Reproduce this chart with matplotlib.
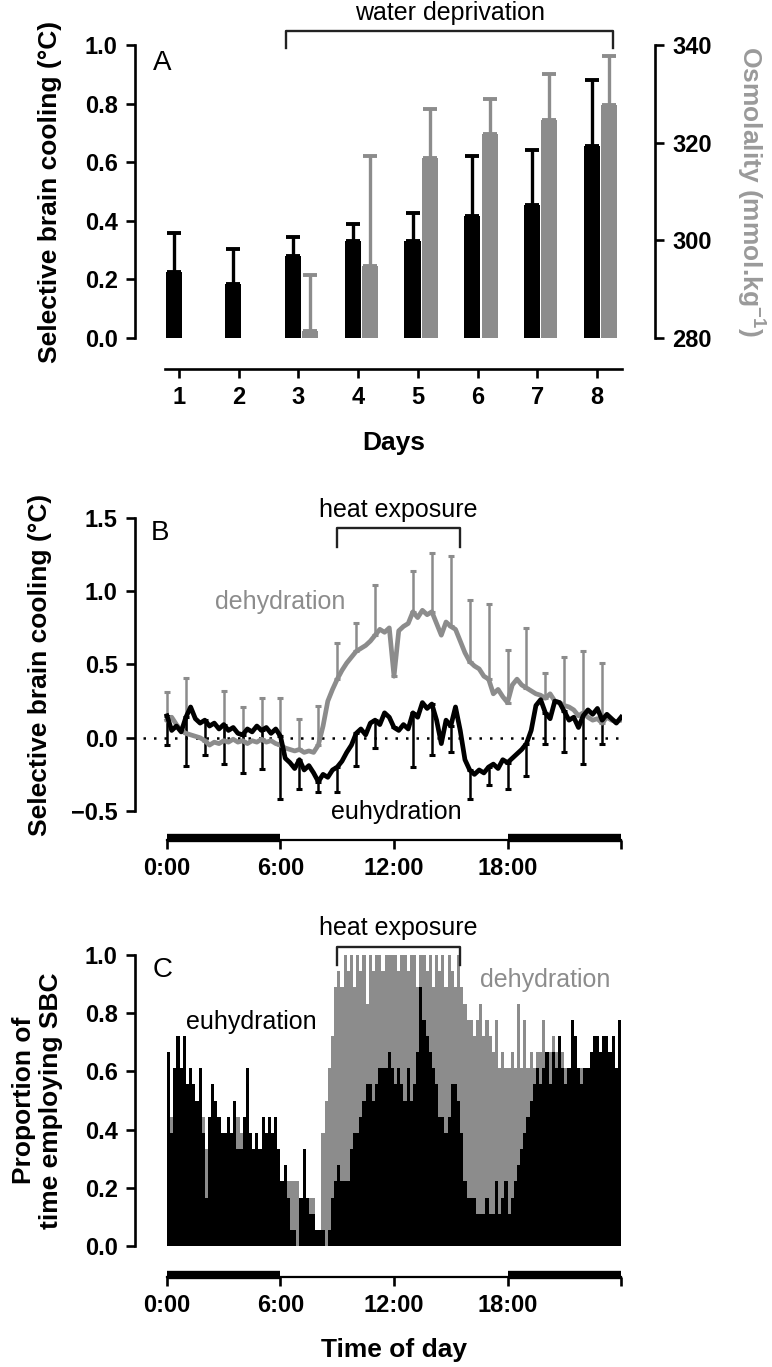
import numpy as np
import matplotlib
matplotlib.use('Agg')
import matplotlib.pyplot as plt

plt.rcParams['font.family'] = ['Liberation Sans', 'DejaVu Sans']
plt.rcParams['mathtext.default'] = 'regular'

GRAY = '#8c8c8c'

# ---- Panel A: daily SBC (black, left axis) and osmolality (gray, right axis)
days = [1, 2, 3, 4, 5, 6, 7, 8]
sbc_mean = [0.225, 0.185, 0.28, 0.33, 0.33, 0.415, 0.455, 0.655]
sbc_sem = [0.135, 0.12, 0.065, 0.06, 0.095, 0.205, 0.185, 0.225]
osm_days = [3, 4, 5, 6, 7, 8]
osm_mean = [281.5, 294.7, 316.9, 321.7, 324.7, 327.7]
osm_sem = [11.5, 22.5, 9.9, 7.2, 9.3, 10.0]
water_dep = (2.79, 8.27)

# ---- Panel B: SBC over the day, 15 min resolution
hours_b = np.linspace(0, 24, 97)
euhy = [0.15, 0.05, 0.08, 0.04, 0.14, 0.21, 0.13, 0.10, 0.12, 0.08, 0.10, 0.06,
        0.09, 0.05, 0.07, 0.03, 0.02, 0.06, 0.04, 0.08, 0.05, 0.07, 0.03, 0.06,
        0.01, -0.14, -0.17, -0.21, -0.15, -0.22, -0.19, -0.24, -0.30, -0.25, -0.27, -0.22,
        -0.20, -0.16, -0.10, -0.05, 0.03, 0.06, 0.02, 0.10, 0.12, 0.09, 0.17, 0.14,
        0.07, 0.05, 0.09, 0.06, 0.17, 0.14, 0.24, 0.20, 0.23, 0.12, -0.04, 0.12,
        0.08, 0.21, 0.05, -0.15, -0.22, -0.25, -0.22, -0.24, -0.20, -0.18, -0.21, -0.15,
        -0.17, -0.14, -0.11, -0.08, -0.04, 0.05, 0.22, 0.26, 0.17, 0.13, 0.25, 0.24,
        0.18, 0.12, 0.14, 0.07, 0.15, 0.19, 0.16, 0.20, 0.12, 0.16, 0.13, 0.10, 0.14]
dehy = [0.12, 0.14, 0.09, 0.05, 0.03, 0.02, 0.01, 0.00, -0.02, -0.05, -0.03, -0.04,
        -0.02, -0.03, -0.01, -0.03, -0.02, -0.04, -0.02, -0.03, -0.01, -0.03, -0.02, -0.04,
        -0.05, -0.07, -0.08, -0.09, -0.08, -0.10, -0.09, -0.10, -0.05, 0.08, 0.25, 0.33,
        0.40, 0.46, 0.51, 0.55, 0.59, 0.61, 0.63, 0.66, 0.70, 0.74, 0.72, 0.75,
        0.42, 0.73, 0.76, 0.78, 0.86, 0.82, 0.87, 0.84, 0.86, 0.78, 0.70, 0.79,
        0.76, 0.74, 0.66, 0.58, 0.52, 0.49, 0.47, 0.42, 0.40, 0.30, 0.33, 0.28,
        0.24, 0.36, 0.40, 0.36, 0.34, 0.32, 0.30, 0.29, 0.27, 0.30, 0.25, 0.24,
        0.22, 0.21, 0.19, 0.15, 0.17, 0.14, 0.12, 0.13, 0.10, 0.14, 0.12, 0.11, 0.12]
# hourly SEM (downward for euhydration, upward for dehydration)
euhy_sem = [0.20, 0.33, 0.24, 0.27, 0.26, 0.26, 0.43, 0.20, 0.07, 0.17, 0.22, 0.19,
            np.nan, 0.37, 0.35, 0.18, 0.20, 0.12, 0.18, 0.22, 0.21, 0.28, 0.33, 0.16]
dehy_sem = [0.19, 0.38, np.nan, 0.34, 0.23, 0.28, 0.32, 0.21, 0.27, 0.25, 0.19, 0.34,
            np.nan, 0.28, 0.40, 0.48, 0.42, 0.51, 0.36, 0.41, 0.17, 0.33, 0.42, 0.41]
heat = (9.0, 15.5)
dark_periods = [(0, 6), (18, 24)]

# ---- Panel C: proportion of time employing SBC, 10 min bins, counts out of 18
n_animals = 18
euhy_count = [12, 7, 11, 13, 11, 13, 10, 11, 10, 9, 11, 7, 3, 8, 10, 9, 8, 7, 7, 8, 7, 9, 6, 6,
              8, 11, 7, 6, 7, 6, 8, 7, 8, 7, 8, 6, 4, 5, 3, 1, 1, 0, 3, 6, 3, 2, 2, 1,
              1, 1, 0, 1, 3, 4, 5, 4, 4, 4, 6, 7, 7, 8, 9, 10, 10, 9, 10, 11, 11, 11, 12, 11,
              10, 11, 10, 9, 11, 9, 10, 12, 16, 14, 13, 12, 11, 10, 8, 8, 7, 8, 10, 10, 9, 7,
              4, 3, 3, 3, 2, 2, 2, 3, 2, 2, 4, 2, 3, 4, 2, 3, 4, 5, 6, 7, 8, 9, 10, 11,
              10, 11, 12, 10, 12, 11, 13, 11, 10, 11, 14, 13, 11, 10, 11, 11, 12, 13, 13, 12,
              13, 13, 12, 13, 11, 14]
dehy_count = [10, 8, 10, 10, 9, 10, 8, 9, 8, 8, 9, 8, 6, 7, 8, 7, 7, 6, 6, 7, 6, 7, 8, 7,
              7, 8, 6, 6, 6, 5, 7, 6, 6, 6, 6, 5, 4, 4, 4, 4, 4, 4, 3, 3, 3, 3, 3, 1,
              0, 7, 9, 11, 13, 16, 17, 16, 18, 17, 18, 16, 18, 17, 18, 15, 18, 17, 18, 18, 17, 18, 18, 18,
              18, 17, 18, 18, 17, 18, 18, 16, 18, 18, 17, 18, 16, 18, 17, 18, 16, 18, 17, 16,
              18, 16, 15, 14, 14, 13, 14, 15, 13, 14, 13, 12, 14, 11, 12, 11, 11, 12, 11, 15,
              11, 14, 11, 12, 11, 12, 12, 14, 12, 12, 13, 12, 12, 12, 11, 11, 10, 11, 10, 11,
              11, 10, 11, 11, 11, 10, 11, 11, 10, 11, 11, 11]
bin_start = np.arange(len(euhy_count)) / 6.0

W, H = 772, 1367
fig = plt.figure(figsize=(W / 100, H / 100), dpi=100)


def px_axes(left, top, right, bottom):
    return fig.add_axes([left / W, 1 - bottom / H, (right - left) / W, (bottom - top) / H])


def style_axis(ax, bottom_off):
    for s in ['top', 'right']:
        ax.spines[s].set_visible(False)
    for s in ['left', 'bottom']:
        ax.spines[s].set_linewidth(1.9)
    ax.spines['bottom'].set_position(('axes', bottom_off))
    ax.tick_params(direction='out', length=6.5, width=1.9, labelsize=17, pad=6)
    for lab in ax.get_xticklabels() + ax.get_yticklabels():
        lab.set_fontweight('bold')


def time_axis(ax, off):
    ax.set_xlim(-1.69, 24.05)
    ax.set_xticks([0, 6, 12, 18, 24])
    ax.set_xticklabels(['0:00', '6:00', '12:00', '18:00', ''])
    style_axis(ax, off)
    ax.spines['bottom'].set_bounds(0, 24)
    ax.spines['bottom'].set_linewidth(1.6)
    # dark phases drawn as a thick bar sitting on the time axis
    for a, b in dark_periods:
        ax.plot([a, b], [off + 0.008, off + 0.008], transform=ax.get_xaxis_transform(),
                color='black', lw=6, solid_capstyle='butt', clip_on=False)


def bracket(ax, x0, x1, y_top, y_leg, label, y_text):
    ax.plot([x0, x0, x1, x1], [y_leg, y_top, y_top, y_leg], color='#222222', lw=1.7, clip_on=False)
    ax.text((x0 + x1) / 2, y_text, label, ha='center', va='center', fontsize=18, clip_on=False)


# ---------------- Panel A
axA = px_axes(135, 45, 655, 338)
dx_black = np.array(days) - 0.09
axA.bar(dx_black, sbc_mean, width=0.27, color='black', zorder=3)
axA.errorbar(dx_black, sbc_mean, yerr=[np.zeros(len(days)), sbc_sem], fmt='none',
             ecolor='black', elinewidth=2.4, capsize=5, capthick=2.8, zorder=2)
axA.set_xlim(0.263, 8.97)
axA.set_ylim(0, 1.0)
axA.set_yticks([0, 0.2, 0.4, 0.6, 0.8, 1.0])
axA.set_yticklabels(['%.1f' % v for v in [0, 0.2, 0.4, 0.6, 0.8, 1.0]])
axA.set_xticks(days)
style_axis(axA, -31 / 293)
axA.spines['bottom'].set_bounds(0.765, 8.42)
axA.set_ylabel('Selective brain cooling (°C)', fontsize=19, fontweight='bold', va='center')
axA.yaxis.set_label_coords(-0.164, 0.5)
axA.set_xlabel('Days', fontsize=19, fontweight='bold', va='center')
axA.xaxis.set_label_coords(0.497, -0.358)
axA.text(0.052, 0.94, 'A', transform=axA.transAxes, fontsize=20, ha='center', va='center')
bracket(axA, water_dep[0], water_dep[1], 1.048, 0.99, 'water deprivation', 1.108)

axA2 = axA.twinx()
dx_gray = np.array(osm_days) + 0.2
axA2.bar(dx_gray, np.array(osm_mean) - 280, bottom=280, width=0.27, color=GRAY, zorder=3)
axA2.errorbar(dx_gray, osm_mean, yerr=[np.zeros(len(osm_days)), osm_sem], fmt='none',
              ecolor=GRAY, elinewidth=2.4, capsize=5, capthick=2.8, zorder=2)
axA2.set_ylim(280, 340)
axA2.set_yticks([280, 300, 320, 340])
for s in ['top', 'left', 'bottom']:
    axA2.spines[s].set_visible(False)
axA2.spines['right'].set_linewidth(1.9)
axA2.tick_params(direction='out', length=6.5, width=1.9, labelsize=17, pad=6)
for lab in axA2.get_yticklabels():
    lab.set_fontweight('bold')
axA2.set_ylabel('Osmolality (mmol.kg$^{-1}$)', fontsize=19, fontweight='bold', color='#9a9a9a',
                rotation=270, va='center')
axA2.yaxis.set_label_coords(1.183, 0.5)

# ---------------- Panel B
axB = px_axes(135, 518, 622, 811)
axB.set_ylim(-0.5, 1.5)
axB.set_yticks([-0.5, 0, 0.5, 1.0, 1.5])
axB.set_yticklabels(['\u22120.5', '0.0', '0.5', '1.0', '1.5'])
time_axis(axB, -29 / 293)
axB.axhline(0, xmin=0.016, xmax=1, color='black', ls=(0, (1, 3.2)), lw=1.8, zorder=1)
err_hours = hours_b[::4][:24]
axB.errorbar(err_hours, np.array(dehy)[::4][:24], yerr=[np.zeros(24), dehy_sem], fmt='none',
             ecolor=GRAY, elinewidth=1.8, capsize=2.5, capthick=2.2, zorder=2)
axB.errorbar(err_hours, np.array(euhy)[::4][:24], yerr=[euhy_sem, np.zeros(24)], fmt='none',
             ecolor='black', elinewidth=1.8, capsize=2.5, capthick=2.2, zorder=3)
axB.plot(hours_b, dehy, color=GRAY, lw=3.4, zorder=4)
axB.plot(hours_b, euhy, color='black', lw=3.4, zorder=5)
axB.set_ylabel('Selective brain cooling (°C)', fontsize=19, fontweight='bold', va='center')
axB.yaxis.set_label_coords(-0.195, 0.5)
axB.text(0.052, 0.95, 'B', transform=axB.transAxes, fontsize=20, ha='center', va='center')
bracket(axB, heat[0], heat[1], 1.43, 1.30, 'heat exposure', 1.555)
axB.text(5.97, 0.925, 'dehydration', color=GRAY, fontsize=18, ha='center', va='center')
axB.text(12.1, -0.507, 'euhydration', color='black', fontsize=18, ha='center', va='center')

# ---------------- Panel C
axC = px_axes(135, 955, 622, 1246)
axC.bar(bin_start, np.array(dehy_count) / n_animals, width=1 / 6, align='edge', color=GRAY,
        edgecolor='none', linewidth=0, antialiased=False, zorder=2)
axC.bar(bin_start, np.array(euhy_count) / n_animals, width=1 / 6, align='edge', color='black',
        edgecolor='none', linewidth=0, antialiased=False, zorder=3)
axC.set_ylim(0, 1.0)
axC.set_yticks([0, 0.2, 0.4, 0.6, 0.8, 1.0])
axC.set_yticklabels(['%.1f' % v for v in [0, 0.2, 0.4, 0.6, 0.8, 1.0]])
time_axis(axC, -31 / 291)
axC.set_ylabel('Proportion of\ntime employing SBC', fontsize=19, fontweight='bold', va='center',
               linespacing=1.15)
axC.yaxis.set_label_coords(-0.2, 0.5)
axC.set_xlabel('Time of day', fontsize=19, fontweight='bold', va='center')
axC.xaxis.set_label_coords(0.532, -0.357)
axC.text(0.057, 0.95, 'C', transform=axC.transAxes, fontsize=20, ha='center', va='center')
bracket(axC, heat[0], heat[1], 1.027, 0.966, 'heat exposure', 1.093)
axC.text(4.44, 0.77, 'euhydration', color='black', fontsize=18, ha='center', va='center')
axC.text(20.0, 0.914, 'dehydration', color=GRAY, fontsize=18, ha='center', va='center')

fig.savefig('out.png', dpi=100)
